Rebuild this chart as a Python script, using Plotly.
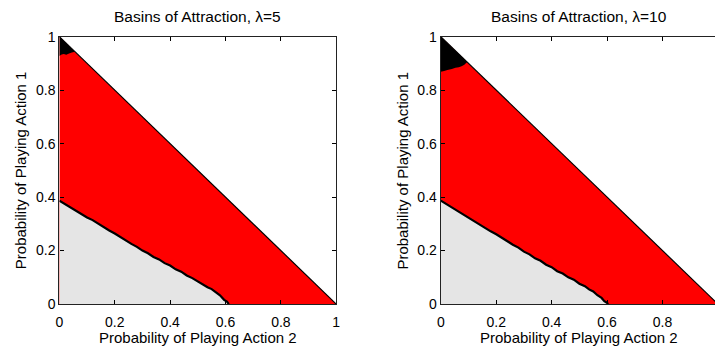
import plotly.graph_objects as go

# ---------------- data ----------------
titles = ["Basins of Attraction, \u03bb=5", "Basins of Attraction, \u03bb=10"]
x_label = "Probability of Playing Action 2"
y_label = "Probability of Playing Action 1"
tick_vals = [0, 0.2, 0.4, 0.6, 0.8, 1]
tick_text = ["0", "0.2", "0.4", "0.6", "0.8", "1"]

# simplex edge (hypotenuse)
simplex_x = [0, 1]
simplex_y = [1, 0]

# boundary between gray basin (near origin) and red basin
gray_bx_5 = [0, 0.02, 0.04, 0.06, 0.08, 0.10, 0.12, 0.14, 0.16, 0.18, 0.20, 0.22, 0.24, 0.26, 0.28, 0.30, 0.32, 0.34, 0.36, 0.38, 0.40, 0.42, 0.44, 0.46, 0.48, 0.50, 0.52, 0.535, 0.55, 0.565, 0.58, 0.595, 0.605, 0.612]
gray_by_5 = [0.387, 0.374, 0.363, 0.349, 0.338, 0.324, 0.314, 0.300, 0.289, 0.275, 0.264, 0.250, 0.239, 0.225, 0.214, 0.200, 0.190, 0.176, 0.167, 0.153, 0.144, 0.130, 0.121, 0.107, 0.097, 0.084, 0.074, 0.063, 0.056, 0.043, 0.033, 0.016, 0.009, 0.0]
gray_bx_10 = [0, 0.02, 0.04, 0.06, 0.08, 0.10, 0.12, 0.14, 0.16, 0.18, 0.20, 0.22, 0.24, 0.26, 0.28, 0.30, 0.32, 0.34, 0.36, 0.38, 0.40, 0.42, 0.44, 0.46, 0.48, 0.50, 0.52, 0.535, 0.55, 0.565, 0.58, 0.59, 0.598, 0.604]
gray_by_10 = [0.387, 0.374, 0.363, 0.348, 0.337, 0.323, 0.312, 0.297, 0.286, 0.272, 0.261, 0.247, 0.236, 0.222, 0.211, 0.196, 0.186, 0.171, 0.162, 0.147, 0.138, 0.123, 0.114, 0.100, 0.091, 0.076, 0.067, 0.055, 0.047, 0.033, 0.023, 0.011, 0.006, 0.0]

# boundary between black basin (near (0,1)) and red basin
black_bx_5 = [0, 0.008, 0.016, 0.025, 0.035, 0.045, 0.056]
black_by_5 = [0.928, 0.933, 0.935, 0.932, 0.937, 0.941, 0.944]
black_bx_10 = [0, 0.012, 0.024, 0.04, 0.053, 0.065, 0.075, 0.085, 0.095]
black_by_10 = [0.869, 0.872, 0.875, 0.879, 0.884, 0.886, 0.889, 0.895, 0.905]

RED = "#ff0000"
GRAY = "#e5e5e5"
FONT = "Liberation Sans, Arial, sans-serif"

W, H = 719, 356
# axes pixel boxes
ax_boxes = [(56, 336, 30, 310), (441.7, 722.0, 30, 310)]

fig = go.Figure()

panels = [
    (gray_bx_5, gray_by_5, black_bx_5, black_by_5),
    (gray_bx_10, gray_by_10, black_bx_10, black_by_10),
]

for i, (gx, gy, bx, by) in enumerate(panels):
    xa = "x" if i == 0 else "x2"
    ya = "y" if i == 0 else "y2"
    # red: whole simplex
    fig.add_trace(go.Scatter(x=[0, simplex_x[1], simplex_x[0], 0], y=[0, simplex_y[1], simplex_y[0], 0],
                             fill="toself", fillcolor=RED, mode="none", xaxis=xa, yaxis=ya,
                             showlegend=False, hoverinfo="skip"))
    # gray basin
    fig.add_trace(go.Scatter(x=[0] + gx + [0], y=[0] + gy + [0],
                             fill="toself", fillcolor=GRAY, mode="none", xaxis=xa, yaxis=ya,
                             showlegend=False, hoverinfo="skip"))
    # black basin
    fig.add_trace(go.Scatter(x=[0] + bx + [0], y=[1] + by + [1],
                             fill="toself", fillcolor="black", mode="none", xaxis=xa, yaxis=ya,
                             showlegend=False, hoverinfo="skip"))
    # boundary line
    fig.add_trace(go.Scatter(x=gx, y=gy, mode="lines", line=dict(color="black", width=2.2),
                             xaxis=xa, yaxis=ya, showlegend=False, hoverinfo="skip"))
    # hypotenuse
    fig.add_trace(go.Scatter(x=simplex_x, y=simplex_y, mode="lines", line=dict(color="black", width=1.2),
                             xaxis=xa, yaxis=ya, showlegend=False, hoverinfo="skip"))

def px2fx(p):
    return p / W

def py2fy(p):
    return 1 - p / H

axis_common = dict(showgrid=False, zeroline=False, ticks="inside", ticklen=4, tickwidth=1,
                   tickcolor="black", showline=True, linecolor="#222", linewidth=1.3,
                   tickvals=tick_vals, ticktext=tick_text,
                   tickfont=dict(family=FONT, size=14, color="black"))

# left axes
x0, x1, y0, y1 = ax_boxes[0]
fig.update_layout(
    xaxis=dict(domain=[px2fx(x0), px2fx(x1)], range=[0, 1], mirror="ticks", anchor="y",
               ticklabelstandoff=5, **axis_common),
    yaxis=dict(domain=[py2fy(y1), py2fy(y0)], range=[0, 1], mirror="ticks", anchor="x", **axis_common),
)
# right axes (runs past the right edge of the page)
x0, x1, y0, y1 = ax_boxes[1]
visible_max = (W - x0) / (x1 - x0)
fig.update_layout(
    xaxis2=dict(domain=[px2fx(x0), 1.0], range=[0, visible_max], mirror="ticks", anchor="y2",
                ticklabelstandoff=5, **axis_common),
    yaxis2=dict(domain=[py2fy(y1), py2fy(y0)], range=[0, 1], mirror=False, anchor="x2", **axis_common),
)

annotations = []
for i, (x0, x1, y0, y1) in enumerate(ax_boxes):
    cx = (x0 + x1) / 2
    annotations.append(dict(text=titles[i], x=px2fx(cx), y=py2fy(9), xref="paper", yref="paper",
                            showarrow=False, xanchor="center", yanchor="middle",
                            font=dict(family=FONT, size=15.5, color="black")))
    annotations.append(dict(text=x_label, x=px2fx(cx), y=py2fy(345), xref="paper", yref="paper",
                            showarrow=False, xanchor="center", yanchor="middle",
                            font=dict(family=FONT, size=15, color="black")))
    annotations.append(dict(text=y_label, x=px2fx(x0 - 39), y=py2fy((y0 + y1) / 2), xref="paper", yref="paper",
                            showarrow=False, xanchor="center", yanchor="middle", textangle=-90,
                            font=dict(family=FONT, size=15, color="black")))

fig.update_layout(
    width=W, height=H, margin=dict(l=0, r=0, t=0, b=0),
    paper_bgcolor="white", plot_bgcolor="white",
    annotations=annotations, showlegend=False,
)

fig.write_html("out.html")
